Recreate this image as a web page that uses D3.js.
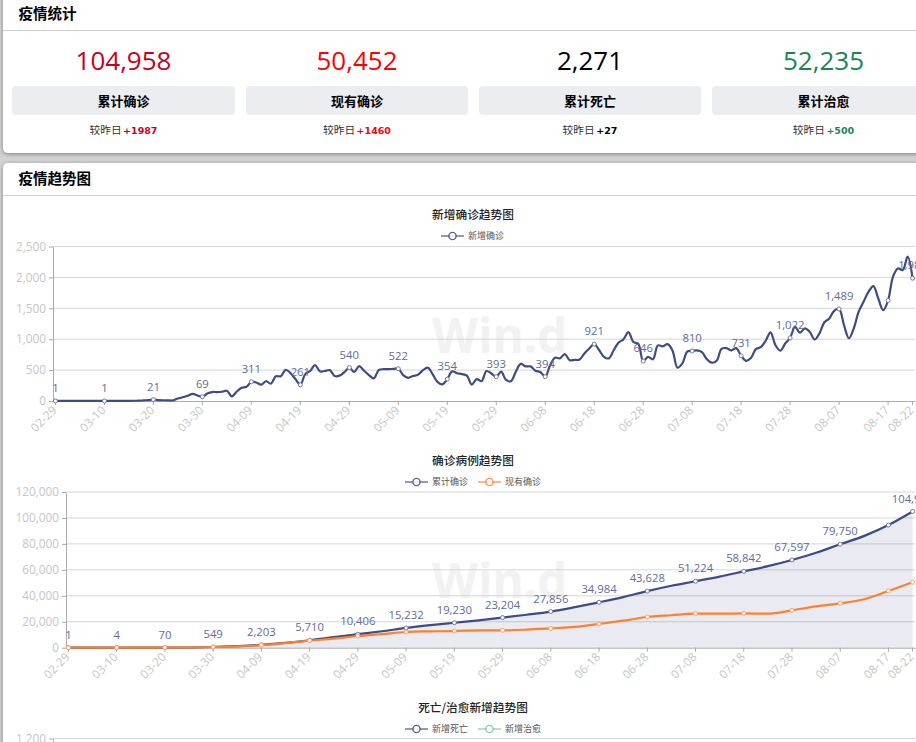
<!DOCTYPE html>
<html>
<head>
<meta charset="utf-8">
<script src="https://cdn.jsdelivr.net/npm/d3@7"></script>
<style>
  html, body { margin: 0; padding: 0; background: #d2d2d2; overflow: hidden; }
  svg { display: block; }
  text { font-family: "Open Sans", "Noto Sans CJK SC", sans-serif; }
  .cn { font-family: "Noto Sans CJK SC", sans-serif; }
  .domain { stroke: #aaa; }
  .tick line { stroke: #aaa; }
  .tick text { fill: #c6c6c6; font-size: 11.8px; font-family: "Open Sans", sans-serif; }
</style>
</head>
<body>
<script>
var svgWidth = 916, svgHeight = 742;
var navy = "#3d4c85", orange = "#ff7f2a", teal = "#7ec4b0", labelColor = "#5f6b9d";

// daily new confirmed cases, 02-29 to 08-22
var newCases = [1,1,1,1,1,2,2,1,1,1,1,2,2,2,3,3,4,5,10,15,21,15,12,10,10,40,60,85,115,90,69,120,145,145,150,165,75,150,215,230,311,300,265,320,280,400,400,505,450,355,261,435,485,580,480,485,500,405,410,465,540,470,565,490,420,365,500,515,515,520,522,420,375,405,425,495,540,435,310,270,354,480,450,435,410,265,355,320,485,445,393,475,340,320,475,600,560,560,490,470,394,580,700,690,760,660,665,670,770,850,921,825,715,690,825,945,1000,1115,955,925,646,715,675,900,885,920,815,540,610,800,810,820,790,675,620,650,845,855,820,855,731,650,695,840,870,975,1110,905,815,930,1022,1200,1105,1175,1120,995,1095,1275,1335,1460,1489,1230,1015,1175,1445,1605,1765,1860,1660,1470,1627,2010,2145,2120,2335,1987];

// cumulative / current confirmed, by day number from 02-29
var caseRows = [
  {day:0, total:1, current:1},
  {day:10, total:4, current:4},
  {day:20, total:70, current:65},
  {day:30, total:549, current:530},
  {day:35, total:1250, current:1000},
  {day:40, total:2203, current:1950},
  {day:45, total:3700, current:3600},
  {day:50, total:5710, current:5400},
  {day:55, total:8100, current:7000},
  {day:60, total:10406, current:9000},
  {day:65, total:12700, current:10500},
  {day:70, total:15232, current:12080},
  {day:75, total:17350, current:12600},
  {day:80, total:19230, current:12850},
  {day:85, total:21100, current:13400},
  {day:90, total:23204, current:13360},
  {day:95, total:25400, current:13900},
  {day:100, total:27856, current:14900},
  {day:105, total:31250, current:16000},
  {day:110, total:34984, current:18250},
  {day:115, total:38980, current:20800},
  {day:120, total:43628, current:23640},
  {day:125, total:47730, current:25000},
  {day:130, total:51224, current:26200},
  {day:135, total:54780, current:26200},
  {day:140, total:58842, current:26470},
  {day:145, total:62870, current:26200},
  {day:150, total:67597, current:28800},
  {day:155, total:73190, current:31900},
  {day:160, total:79750, current:34180},
  {day:165, total:86200, current:37300},
  {day:170, total:94500, current:43690},
  {day:175, total:104958, current:50452}
];

var stats = [
  {value:"104,958", name:"累计确诊", delta:"+1987", color:"#c8001e", x:12, w:223},
  {value:"50,452", name:"现有确诊", delta:"+1460", color:"#ff0000", x:246, w:222},
  {value:"2,271", name:"累计死亡", delta:"+27", color:"#000000", x:479, w:222},
  {value:"52,235", name:"累计治愈", delta:"+500", color:"#17855a", x:712, w:223}
];

var parseDate = d3.timeParse("%Y-%m-%d");
var formatDay = d3.timeFormat("%m-%d");
var dates = d3.timeDay.range(parseDate("2020-02-29"), parseDate("2020-08-23")).map(formatDay);
var tickDays = d3.range(0, 171, 10).concat([175]);
var tickDates = tickDays.map(d => dates[d]);

var svg = d3.select("body").append("svg")
  .attr("width", svgWidth)
  .attr("height", svgHeight);

var defs = svg.append("defs");
var shadow = defs.append("filter").attr("id", "shadow")
  .attr("x", "-5%").attr("y", "-10%").attr("width", "110%").attr("height", "120%");
shadow.append("feDropShadow").attr("dx", 0).attr("dy", 1).attr("stdDeviation", 2)
  .attr("flood-color", "#000").attr("flood-opacity", 0.4);
defs.append("clipPath").attr("id", "page").append("rect")
  .attr("width", svgWidth).attr("height", svgHeight);

// cards
function card(y, h, title, lineY, titleY) {
  svg.append("rect").attr("x", 3).attr("y", y).attr("width", 1000).attr("height", h)
    .attr("rx", 5).attr("fill", "#fff").attr("filter", "url(#shadow)");
  svg.append("line").attr("x1", 3).attr("x2", svgWidth).attr("y1", lineY).attr("y2", lineY)
    .attr("stroke", "#ccc").attr("stroke-width", 1);
  svg.append("text").attr("class", "cn").attr("x", 18.5).attr("y", titleY)
    .attr("font-size", 14.5).attr("font-weight", 700).attr("fill", "#000").text(title);
}
card(-10, 163, "疫情统计", 30.5, 19);
card(163, 800, "疫情趋势图", 195.5, 184);

// stat boxes
var statGroup = svg.selectAll(".stat").data(stats).enter().append("g").attr("class", "stat");
statGroup.append("rect").attr("x", d => d.x).attr("y", 86).attr("width", d => d.w).attr("height", 29)
  .attr("rx", 4).attr("fill", "#ebedf1");
statGroup.append("text").attr("x", d => d.x + d.w / 2).attr("y", 70).attr("text-anchor", "middle")
  .attr("font-size", 26).attr("fill", d => d.color).text(d => d.value);
statGroup.append("text").attr("class", "cn").attr("x", d => d.x + d.w / 2).attr("y", 106).attr("text-anchor", "middle")
  .attr("font-size", 13).attr("font-weight", 700).attr("fill", "#000").text(d => d.name);
var deltaText = statGroup.append("text").attr("x", d => d.x + d.w / 2).attr("y", 134).attr("text-anchor", "middle");
deltaText.append("tspan").attr("class", "cn").attr("font-size", 10.7).attr("fill", "#333").text("较昨日");
deltaText.append("tspan").attr("font-size", 9.5).attr("font-weight", 700).attr("dx", 1.5)
  .attr("font-family", "DejaVu Sans").attr("fill", d => d.color).text(d => d.delta);

function chartFrame(opt) {
  var g = svg.append("g").attr("clip-path", "url(#page)");
  g.append("text").attr("x", 432).attr("y", opt.wmY).attr("font-family", "Liberation Sans")
    .attr("font-size", 47.5).attr("font-weight", 700).attr("fill", "#f2f2f2").text("Win.d");
  var x = d3.scaleBand().domain(dates).range([opt.left, 915]);
  var y = d3.scaleLinear().domain(opt.domain).range([opt.bottom, opt.top]);
  var center = d => x(dates[d]) + x.bandwidth() / 2;

  g.selectAll(".grid").data(y.ticks(opt.ticks).slice(1)).enter().append("line")
    .attr("x1", opt.left).attr("x2", 915)
    .attr("y1", d => y(d)).attr("y2", d => y(d))
    .attr("stroke", "#d6d6d6").attr("stroke-width", 1);

  var bottomAxis = d3.axisBottom(x).tickValues(tickDates).tickSize(4).tickSizeOuter(0);
  var xAxis = g.append("g").attr("transform", `translate(0, ${opt.bottom})`).call(bottomAxis);
  xAxis.selectAll(".tick text")
    .attr("text-anchor", "end").attr("x", -5.7).attr("y", 8.5).attr("dy", 0)
    .attr("transform", "rotate(-45)");
  var leftAxis = d3.axisLeft(y).ticks(opt.ticks).tickSize(4).tickSizeOuter(0).tickFormat(d3.format(","));
  g.append("g").attr("transform", `translate(${opt.left}, 0)`).call(leftAxis);
  return {g: g, x: x, y: y, center: center};
}

function drawTitle(text, titleY, legendItems, legendX) {
  svg.append("text").attr("class", "cn").attr("x", 473).attr("y", titleY).attr("text-anchor", "middle")
    .attr("font-size", 11.7).attr("font-weight", 500).attr("fill", "#222").text(text);
  var lx = legendX;
  legendItems.forEach(function(item) {
    var ly = titleY + 17;
    svg.append("line").attr("x1", lx).attr("x2", lx + 23).attr("y1", ly).attr("y2", ly)
      .attr("stroke", item.color).attr("stroke-width", 1.5).attr("opacity", 0.75);
    svg.append("circle").attr("cx", lx + 11.5).attr("cy", ly).attr("r", 3.6)
      .attr("fill", "#fff").attr("stroke", item.color).attr("stroke-width", 1.4).attr("opacity", 0.85);
    svg.append("text").attr("class", "cn").attr("x", lx + 27).attr("y", ly + 3.2)
      .attr("font-size", 9).attr("fill", "#555").text(item.name);
    lx += 73;
  });
}

function drawMarkers(c, rows, key, color) {
  c.g.selectAll(null).data(rows).enter().append("circle")
    .attr("cx", d => c.center(d.day)).attr("cy", d => c.y(d[key])).attr("r", 2)
    .attr("fill", "#fff").attr("stroke", color).attr("stroke-width", 1);
}

function drawLabels(c, rows, key) {
  c.g.selectAll(null).data(rows).enter().append("text")
    .attr("x", d => c.center(d.day)).attr("y", d => c.y(d[key]) - 9)
    .attr("text-anchor", "middle").attr("font-size", 11.3).attr("fill", labelColor)
    .text(d => d3.format(",")(d[key]));
}

// new confirmed
var top1 = chartFrame({left: 53, top: 246.5, bottom: 401, domain: [0, 2500], ticks: 5, wmY: 353});
drawTitle("新增确诊趋势图", 219, [{name: "新增确诊", color: navy}], 441);
var dailyRows = newCases.map((v, i) => ({day: i, value: v}));
var line1 = d3.line().x(d => top1.center(d.day)).y(d => top1.y(d.value)).curve(d3.curveCatmullRom.alpha(0.5));
top1.g.append("path").datum(dailyRows).attr("d", line1)
  .attr("fill", "none").attr("stroke", navy).attr("stroke-width", 2.2);
var marked1 = dailyRows.filter(d => tickDays.includes(d.day));
drawMarkers(top1, marked1, "value", "#6f7aa5");
drawLabels(top1, marked1.filter(d => d.day != 170), "value");

// cumulative and current
var top2 = chartFrame({left: 66, top: 492, bottom: 647.7, domain: [0, 120000], ticks: 6, wmY: 598});
drawTitle("确诊病例趋势图", 465, [{name: "累计确诊", color: navy}, {name: "现有确诊", color: orange}], 405);
var area2 = d3.area().x(d => top2.center(d.day)).y0(top2.y(0)).y1(d => top2.y(d.total)).curve(d3.curveMonotoneX);
top2.g.append("path").datum(caseRows).attr("d", area2).attr("fill", navy).attr("opacity", 0.11);
var lineTotal = d3.line().x(d => top2.center(d.day)).y(d => top2.y(d.total)).curve(d3.curveMonotoneX);
var lineCurrent = d3.line().x(d => top2.center(d.day)).y(d => top2.y(d.current)).curve(d3.curveMonotoneX);
top2.g.append("path").datum(caseRows).attr("d", lineTotal).attr("fill", "none").attr("stroke", navy).attr("stroke-width", 2.2);
top2.g.append("path").datum(caseRows).attr("d", lineCurrent).attr("fill", "none").attr("stroke", orange).attr("stroke-width", 2.2);
var marked2 = caseRows.filter(d => tickDays.includes(d.day));
drawMarkers(top2, marked2, "total", "#6f7aa5");
drawMarkers(top2, marked2, "current", "#ffa064");
drawLabels(top2, marked2.filter(d => d.day != 170), "total");

// deaths / recovered: only the title, legend and top of the axis are in view
drawTitle("死亡/治愈新增趋势图", 712, [{name: "新增死亡", color: navy}, {name: "新增治愈", color: teal}], 405);
var y3 = d3.scaleLinear().domain([0, 1200]).range([893, 738.5]);
var top3 = svg.append("g").attr("clip-path", "url(#page)");
top3.append("line").attr("x1", 53).attr("x2", 915).attr("y1", y3(1200)).attr("y2", y3(1200))
  .attr("stroke", "#d6d6d6");
top3.append("g").attr("transform", "translate(53, 0)")
  .call(d3.axisLeft(y3).tickValues([1200]).tickSize(4).tickSizeOuter(0).tickFormat(d3.format(",")));
</script>
</body>
</html>
